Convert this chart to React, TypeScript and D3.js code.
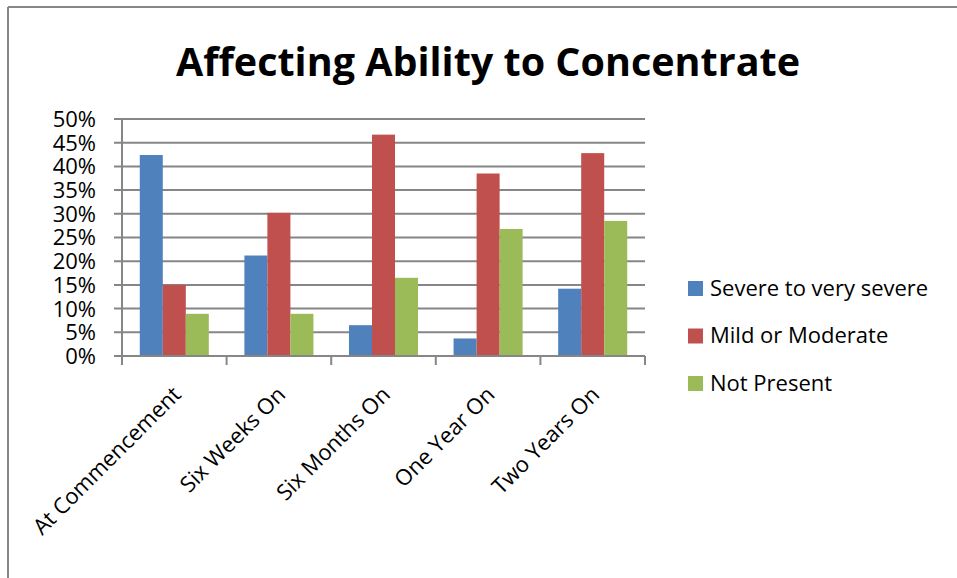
import { useEffect, useRef } from "react";
import * as d3 from "d3";

const categories = ["At Commencement", "Six Weeks On", "Six Months On", "One Year On", "Two Years On"];
const seriesNames = ["Severe to very severe", "Mild or Moderate", "Not Present"];
const severe = [0.424, 0.212, 0.065, 0.037, 0.142];
const mild = [0.15, 0.302, 0.467, 0.385, 0.428];
const notPresent = [0.089, 0.089, 0.165, 0.268, 0.285];
const yTicks = [0, 0.05, 0.1, 0.15, 0.2, 0.25, 0.3, 0.35, 0.4, 0.45, 0.5];
const colors = ["#4F81BD", "#C0504D", "#9BBB59"];

const FONT = "'Open Sans', Lato, sans-serif";

export default function App() {
  const svgRef = useRef<SVGSVGElement>(null);

  useEffect(() => {
    const width = 957;
    const height = 578;
    d3.select(svgRef.current).selectAll("*").remove();
    const svg = d3.select(svgRef.current).attr("width", width).attr("height", height);

    // chart border (top + left visible)
    svg.append("line").attr("x1", 8).attr("x2", width).attr("y1", 7).attr("y2", 7)
      .attr("stroke", "#868686").attr("stroke-width", 2);
    svg.append("line").attr("x1", 8).attr("x2", 8).attr("y1", 7).attr("y2", height)
      .attr("stroke", "#868686").attr("stroke-width", 2);

    svg.append("text")
      .attr("x", 488).attr("y", 76)
      .attr("text-anchor", "middle")
      .attr("font-family", FONT)
      .attr("font-weight", "bold")
      .attr("font-size", 40)
      .attr("textLength", 624)
      .attr("lengthAdjust", "spacingAndGlyphs")
      .text("Affecting Ability to Concentrate");

    const left = 122, right = 645, top = 119, bottom = 356;

    const x = d3.scaleBand().domain(categories).range([left, right]).paddingInner(0.34).paddingOuter(0.17);
    const xs = d3.scaleBand().domain(seriesNames).range([0, x.bandwidth()]);
    const y = d3.scaleLinear().domain([0, 0.5]).range([bottom, top]);

    // gridlines
    svg.append("g").selectAll("line").data(yTicks).join("line")
      .attr("x1", left - 8).attr("x2", right)
      .attr("y1", d => y(d)).attr("y2", d => y(d))
      .attr("stroke", "#868686").attr("stroke-width", 2);

    // y axis line
    svg.append("line").attr("x1", left).attr("x2", left).attr("y1", top).attr("y2", bottom)
      .attr("stroke", "#868686").attr("stroke-width", 2);

    svg.append("g").selectAll("text").data(yTicks).join("text")
      .attr("x", 96).attr("y", d => y(d))
      .attr("dy", "0.36em")
      .attr("text-anchor", "end")
      .attr("font-family", FONT)
      .attr("font-size", 22)
      .text(d => d3.format(".0%")(d));

    const all = [severe, mild, notPresent];
    seriesNames.forEach((name, si) => {
      svg.append("g").selectAll("rect").data(all[si]).join("rect")
        .attr("x", (_, i) => (x(categories[i]) as number) + (xs(name) as number))
        .attr("width", xs.bandwidth())
        .attr("y", d => y(d))
        .attr("height", d => bottom - y(d))
        .attr("fill", colors[si]);
    });

    // x axis with ticks between categories
    const step = x.step();
    const tickXs = d3.range(categories.length + 1).map(i => left + i * step);
    svg.append("line").attr("x1", left).attr("x2", right).attr("y1", bottom).attr("y2", bottom)
      .attr("stroke", "#868686").attr("stroke-width", 2);
    svg.append("g").selectAll("line").data(tickXs).join("line")
      .attr("x1", d => d).attr("x2", d => d).attr("y1", bottom).attr("y2", bottom + 9)
      .attr("stroke", "#868686").attr("stroke-width", 2);

    svg.append("g").selectAll("text").data(categories).join("text")
      .attr("transform", d => `translate(${(x(d) as number) + x.bandwidth() / 2 + 8},${bottom + 40}) rotate(-45)`)
      .attr("text-anchor", "end")
      .attr("font-family", FONT)
      .attr("font-size", 22)
      .text(d => d);

    // legend
    const legend = svg.append("g").selectAll("g").data(seriesNames).join("g")
      .attr("transform", (_, i) => `translate(688,${288 + i * 47.5})`);
    legend.append("rect").attr("x", 0).attr("y", -7).attr("width", 15).attr("height", 15)
      .attr("fill", (_, i) => colors[i]);
    legend.append("text").attr("x", 22).attr("y", 0).attr("dy", "0.36em")
      .attr("font-family", FONT).attr("font-size", 22)
      .text(d => d);
  }, []);

  return (
    <div style={{ position: "absolute", left: 0, top: 0 }}>
      <svg ref={svgRef}></svg>
    </div>
  );
}
